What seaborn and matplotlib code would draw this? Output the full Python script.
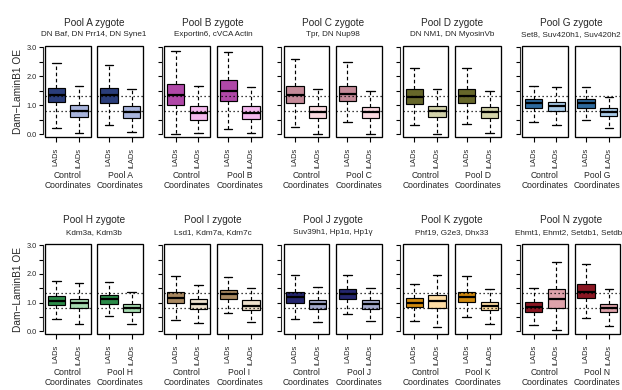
import numpy as np
import pandas as pd
import matplotlib
matplotlib.use("Agg")
import matplotlib.pyplot as plt
import seaborn as sns
from matplotlib.patches import Rectangle

# ---------------- data ----------------
pools = ["A", "B", "C", "D", "G", "H", "I", "J", "K", "N"]
subtitles = [
    "DN Baf, DN Prr14, DN Syne1",
    "Exportin6, cVCA Actin",
    "Tpr, DN Nup98",
    "DN NM1, DN MyosinVb",
    "Set8, Suv420h1, Suv420h2",
    "Kdm3a, Kdm3b",
    "Lsd1, Kdm7a, Kdm7c",
    "Suv39h1, Hp1\u03b1, Hp1\u03b3",
    "Phf19, G2e3, Dhx33",
    "Ehmt1, Ehmt2, Setdb1, Setdb2",
]
categories = ["LADs", "iLADs"]
dark_colors = ["#2A3D7A", "#B048A8", "#C48A98", "#66672A", "#2E6A9E",
               "#2A8A48", "#A88860", "#24266E", "#D08A10", "#8A1622"]
light_colors = ["#A8B4DC", "#F4B8EE", "#FAD9E0", "#D2D2AA", "#A9CBE8",
                "#A6DBB0", "#EDE0CC", "#A4AACC", "#FDDCA4", "#DDA2AA"]

# box summaries: (lower whisker, Q1, median, Q3, upper whisker)
ctrl_lads = [
    (0.23, 1.10, 1.34, 1.60, 2.47), (0.02, 1.01, 1.36, 1.74, 2.87),
    (0.27, 1.07, 1.36, 1.66, 2.58), (0.31, 1.05, 1.28, 1.55, 2.30),
    (0.43, 0.90, 1.07, 1.22, 1.66), (0.44, 0.91, 1.06, 1.24, 1.76),
    (0.41, 0.99, 1.17, 1.37, 1.93), (0.43, 0.99, 1.19, 1.38, 1.95),
    (0.35, 0.84, 0.99, 1.17, 1.64), (0.21, 0.68, 0.85, 1.02, 1.50),
]
ctrl_ilads = [
    (0.06, 0.60, 0.80, 1.01, 1.66), (0.06, 0.50, 0.73, 0.97, 1.66),
    (0.03, 0.57, 0.76, 0.97, 1.55), (0.03, 0.60, 0.79, 0.99, 1.57),
    (0.31, 0.79, 0.99, 1.13, 1.63), (0.27, 0.80, 0.98, 1.14, 1.68),
    (0.29, 0.78, 0.96, 1.13, 1.60), (0.33, 0.78, 0.94, 1.08, 1.54),
    (0.14, 0.82, 1.05, 1.26, 1.95), (0.06, 0.82, 1.13, 1.46, 2.42),
]
pool_lads = [
    (0.31, 1.08, 1.34, 1.60, 2.38), (0.20, 1.15, 1.49, 1.86, 2.85),
    (0.43, 1.14, 1.40, 1.66, 2.50), (0.37, 1.08, 1.31, 1.55, 2.27),
    (0.50, 0.90, 1.07, 1.22, 1.63), (0.53, 0.94, 1.12, 1.26, 1.73),
    (0.64, 1.11, 1.29, 1.43, 1.89), (0.62, 1.13, 1.31, 1.49, 1.95),
    (0.50, 1.03, 1.20, 1.38, 1.91), (0.47, 1.17, 1.37, 1.64, 2.36),
]
pool_ilads = [
    (0.08, 0.58, 0.76, 0.97, 1.56), (0.06, 0.52, 0.73, 0.97, 1.63),
    (0.03, 0.57, 0.76, 0.94, 1.48), (0.06, 0.58, 0.76, 0.93, 1.48),
    (0.23, 0.62, 0.76, 0.90, 1.28), (0.27, 0.68, 0.82, 0.94, 1.38),
    (0.33, 0.76, 0.90, 1.08, 1.52), (0.35, 0.78, 0.94, 1.09, 1.52),
    (0.27, 0.74, 0.88, 1.03, 1.49), (0.20, 0.67, 0.82, 0.97, 1.46),
]
ref_high = 1.32
ref_low = 0.81
y_ticks = [0.0, 0.5, 1.0, 1.5, 2.0, 2.5, 3.0]
y_ticklabels = ["0.0", "", "1.0", "", "2.0", "", "3.0"]

# build long table (5 summary points per box -> exact quartiles, whiskers = min/max)
rows = []
for i, p in enumerate(pools):
    for coords, lads, ilads in (("Control", ctrl_lads, ctrl_ilads),
                                ("Pool", pool_lads, pool_ilads)):
        for region, stats in (("LADs", lads[i]), ("iLADs", ilads[i])):
            for v in stats:
                rows.append({"pool": p, "coords": coords, "region": region, "value": v})
df = pd.DataFrame(rows)

# ---------------- figure ----------------
sns.set_style("ticks")
plt.rcParams["font.family"] = ["Liberation Sans", "DejaVu Sans"]
W, H = 622, 390
fig = plt.figure(figsize=(W / 100, H / 100), dpi=100)

panel_w = 45.5
panel_gap = 7
pool_stride = 119.3
rows_geom = [  # (top px, bottom px, title y, subtitle y, coord label y)
    (46, 137, 22.7, 35, 180.5),
    (244, 334, 220, 232.5, 377.5),
]

for i, p in enumerate(pools):
    r = 0 if i < 5 else 1
    k = i % 5
    top, bot, ty, sy, cy = rows_geom[r]
    L = 45 + pool_stride * k
    for j, coords in enumerate(["Control", "Pool"]):
        x0 = L + j * (panel_w + panel_gap)
        ax = fig.add_axes([x0 / W, 1 - bot / H, panel_w / W, (bot - top) / H])
        sub = df[(df.pool == p) & (df.coords == coords)]
        sns.boxplot(data=sub, x="region", y="value", hue="region", order=categories,
                    hue_order=categories, palette=[dark_colors[i], light_colors[i]],
                    saturation=1, width=0.76, whis=(0, 100), showfliers=False,
                    linecolor="black", linewidth=0.85, legend=False, ax=ax,
                    whiskerprops=dict(linestyle=(0, (3.0, 2.2)), linewidth=0.85),
                    capprops=dict(linewidth=0.95),
                    medianprops=dict(linewidth=1.6, color="black"))
        ax.axhline(ref_high, ls=(0, (1, 2.2)), color="black", lw=0.9, zorder=6)
        ax.axhline(ref_low, ls=(0, (1, 2.2)), color="black", lw=0.9, zorder=6)
        ax.set_xlim(-0.5, 1.5)
        ax.set_ylim(-0.09, 3.04)
        ax.set_xlabel("")
        ax.set_ylabel("")
        for s in ["top", "right", "bottom"]:
            ax.spines[s].set_visible(False)
        ax.add_patch(Rectangle((0, 0), 1, 1, transform=ax.transAxes, fill=False,
                               ec="black", lw=0.95, clip_on=False, zorder=7))
        ax.set_xticks([0, 1])
        ax.set_xticklabels(categories, rotation=90, fontsize=5.4)
        ax.tick_params(axis="x", length=3.5, width=0.8, pad=4.2, color="black")
        if j == 0:
            ax.spines["left"].set_position(("outward", 1.8))
            ax.spines["left"].set_bounds(0, 3)
            ax.spines["left"].set_linewidth(0.8)
            ax.set_yticks(y_ticks)
            ax.set_yticklabels(y_ticklabels if k == 0 else [""] * len(y_ticks),
                               fontsize=5.3)
            ax.tick_params(axis="y", length=3, width=0.8, pad=1.2, color="black")
        else:
            ax.spines["left"].set_visible(False)
            ax.set_yticks([])
        label = "Control\nCoordinates" if coords == "Control" else f"Pool {p}\nCoordinates"
        fig.text((x0 + panel_w / 2) / W, 1 - cy / H, label, ha="center", va="center",
                 fontsize=6.2, linespacing=1.05)
    cx = (L + panel_w + panel_gap / 2) / W
    fig.text(cx, 1 - ty / H, f"Pool {p} zygote", ha="center", va="center", fontsize=7.2)
    fig.text(cx, 1 - sy / H, subtitles[i], ha="center", va="center", fontsize=5.9)

for top, bot, *_ in rows_geom:
    fig.text(18 / W, 1 - (top + bot) / 2 / H, "Dam\u2212LaminB1 OE", rotation=90,
             ha="center", va="center", fontsize=7.3)

fig.savefig("out.png", dpi=100)
